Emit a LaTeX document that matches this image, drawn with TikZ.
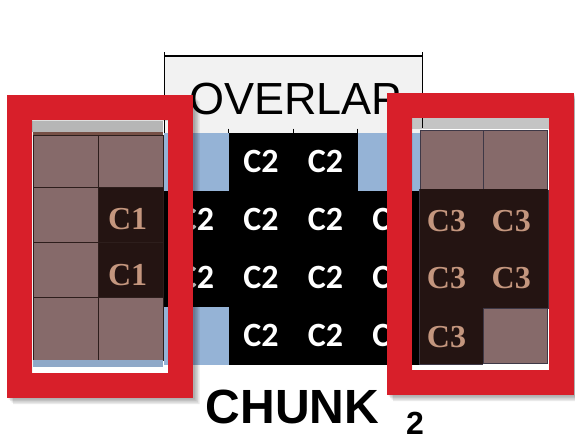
\documentclass[tikz,border=0pt]{standalone}
\usepackage{fontspec}
\setmainfont{Liberation Sans}
\newfontfamily\cellfont{Carlito}
\newfontfamily\serifcell{Liberation Serif}

\definecolor{framered}{RGB}{216,31,42}
\definecolor{taupe}{RGB}{134,106,106}
\definecolor{cocoa}{RGB}{36,20,18}
\definecolor{tanink}{RGB}{196,150,126}
\definecolor{cellblue}{RGB}{149,179,214}
\definecolor{stripblue}{RGB}{143,169,200}
\definecolor{stripgray}{RGB}{182,182,182}
\definecolor{stripgrayb}{RGB}{196,196,196}
\definecolor{panelgray}{RGB}{242,242,242}
\definecolor{gridline}{RGB}{45,30,28}
\definecolor{gridlineb}{RGB}{62,56,70}
\definecolor{rimbrown}{RGB}{118,80,70}

\tikzset{
  gcell/.style={anchor=north west, inner sep=0, minimum width=64.5pt,
    minimum height=58pt, text=white,
    font=\cellfont\bfseries\fontsize{34}{34}\selectfont},
  lcell/.style={anchor=north west, inner sep=0, minimum width=65pt,
    draw=gridline, line width=1.2pt, fill=taupe},
  rcell/.style={anchor=north west, inner sep=0, draw=gridlineb,
    line width=1pt, fill=taupe},
  ctext/.style={inner sep=0, text=tanink,
    font=\serifcell\bfseries\fontsize{32}{32}\selectfont},
  tickmark/.style={line width=1pt, black},
  redframe/.style={anchor=north west, inner sep=0, draw=framered,
    line width=25pt, outer sep=0},
  strip/.style={anchor=north west, inner sep=0, draw=none},
}

\begin{document}
\begin{tikzpicture}[x=1pt, y=-1pt]
\useasboundingbox[fill=white] (0,0) rectangle (575,441);

% header panel
\node[strip, fill=panelgray, minimum width=258pt, minimum height=76.5pt]
  (ovbox) at (164,56) {};

% central 4x4 grid
\node[gcell, fill=cellblue] (m11) at (164,132.5) {};
\node[gcell, fill=black]    (m12) at (228.5,132.5) {C2};
\node[gcell, fill=black]    (m13) at (293,132.5) {C2};
\node[gcell, fill=cellblue] (m14) at (357.5,132.5) {};
\node[gcell, fill=black]    (m21) at (164,190.5) {C2};
\node[gcell, fill=black]    (m22) at (228.5,190.5) {C2};
\node[gcell, fill=black]    (m23) at (293,190.5) {C2};
\node[gcell, fill=black]    (m24) at (357.5,190.5) {C2};
\node[gcell, fill=black]    (m31) at (164,248.5) {C2};
\node[gcell, fill=black]    (m32) at (228.5,248.5) {C2};
\node[gcell, fill=black]    (m33) at (293,248.5) {C2};
\node[gcell, fill=black]    (m34) at (357.5,248.5) {C2};
\node[gcell, fill=cellblue] (m41) at (164,306.5) {};
\node[gcell, fill=black]    (m42) at (228.5,306.5) {C2};
\node[gcell, fill=black]    (m43) at (293,306.5) {C2};
\node[gcell, fill=black]    (m44) at (357.5,306.5) {C2};

% column ticks on top of the grid
\foreach \c in {m12,m13,m14}
  \draw[tickmark] ([yshift=4pt]\c.north west) -- (\c.north west);

% header panel outline
\draw[line width=1.3pt] (ovbox.north west) -- (ovbox.north east);
\draw[tickmark] ([yshift=3.5pt]ovbox.north west) -- ([yshift=-3pt]ovbox.north west);
\draw[tickmark] ([yshift=3.5pt]ovbox.north east) -- ([yshift=-3pt]ovbox.north east);
\draw[line width=0.9pt] (ovbox.north west) -- (ovbox.south west);

% left table
\node[strip, fill=stripgray, minimum width=131pt, minimum height=11pt]
  (lstrip) at (32,121) {};
\node[strip, fill=rimbrown, minimum width=130pt, minimum height=3pt]
  (lrim) at (33,132) {};
\node[lcell, minimum height=52pt] (l11) at (33,135) {};
\node[lcell, minimum height=52pt] (l12) at (98,135) {};
\node[lcell, minimum height=55pt] (l21) at (33,187) {};
\node[lcell, minimum height=55pt, fill=cocoa] (l22) at (98,187) {};
\node[lcell, minimum height=55pt] (l31) at (33,242) {};
\node[lcell, minimum height=55pt, fill=cocoa] (l32) at (98,242) {};
\node[lcell, minimum height=63pt] (l41) at (33,297) {};
\node[lcell, minimum height=63pt] (l42) at (98,297) {};
\node[strip, fill=stripblue, minimum width=130pt, minimum height=7pt]
  (lfoot) at (33,360) {};
\node[ctext] (c1a) at ([xshift=-3.5pt,yshift=-3.5pt]l22.center) {C1};
\node[ctext] (c1b) at ([xshift=-3.5pt,yshift=-4.5pt]l32.center) {C1};

% right table
\node[strip, fill=stripgrayb, minimum width=137pt, minimum height=11.5pt]
  (rstrip) at (412,117) {};
\node[rcell, minimum width=63pt, minimum height=59pt] (r11) at (419.5,130) {};
\node[rcell, minimum width=64.5pt, minimum height=59pt] (r12) at (482.5,130) {};
\node[rcell, minimum width=63pt, minimum height=59.5pt, fill=cocoa, draw=cocoa] (r21) at (419.5,189) {};
\node[rcell, minimum width=64.5pt, minimum height=59.5pt, fill=cocoa, draw=cocoa] (r22) at (482.5,189) {};
\node[rcell, minimum width=63pt, minimum height=59.5pt, fill=cocoa, draw=cocoa] (r31) at (419.5,248.5) {};
\node[rcell, minimum width=64.5pt, minimum height=59.5pt, fill=cocoa, draw=cocoa] (r32) at (482.5,248.5) {};
\node[rcell, minimum width=63pt, minimum height=55pt, fill=cocoa, draw=cocoa] (r41) at (419.5,308) {};
\node[rcell, minimum width=64.5pt, minimum height=55pt] (r42) at (482.5,308) {};
\draw[gridlineb, line width=1pt] (r21.north west) -- (r41.south west) -- (r42.south west);
\draw[gridlineb, line width=1pt] (r12.south east) -- (r32.south east);
\node[ctext] (c3a) at ([xshift=-5pt,yshift=-1.5pt]r21.center) {C3};
\node[ctext] (c3b) at ([xshift=-4pt,yshift=-1.5pt]r22.center) {C3};
\node[ctext] (c3c) at ([xshift=-5pt,yshift=1pt]r31.center) {C3};
\node[ctext] (c3d) at ([xshift=-4pt,yshift=1pt]r32.center) {C3};
\node[ctext] (c3e) at ([xshift=-5pt,yshift=-1pt]r41.center) {C3};

% right edge of the header panel, running down over the strip
\draw[line width=0.9pt] (ovbox.north east) -- ([yshift=4.5pt]ovbox.south east);

% header label
\node[anchor=base west, inner sep=0, font=\fontsize{45}{45}\selectfont]
  (ovtext) at (189,115) {OVERLAP};

% soft shadows of the two frames
\foreach \d in {1.5,3,4.5,6} {
  \fill[black, opacity=0.085, even odd rule]
    (7+\d,95.5+\d) rectangle (193.5+\d,398+\d)
    (32,120.5) rectangle (168,373);
  \fill[black, opacity=0.085, even odd rule]
    (387+\d,93+\d) rectangle (573.5+\d,395+\d)
    (412,117.5) rectangle (549,370);
}

% red frames
\node[redframe, minimum width=161pt, minimum height=277.5pt] (lframe) at (19.5,108) {};
\node[redframe, minimum width=161.5pt, minimum height=277pt] (rframe) at (399.5,105.5) {};

% caption
\node[anchor=base west, inner sep=0, font=\bfseries\fontsize{48}{48}\selectfont]
  (chunk) at (205.5,423) {CHUNK};
\node[anchor=base west, inner sep=0, font=\bfseries\fontsize{32}{32}\selectfont]
  (chunksub) at (406,434.5) {2};
\end{tikzpicture}
\end{document}
